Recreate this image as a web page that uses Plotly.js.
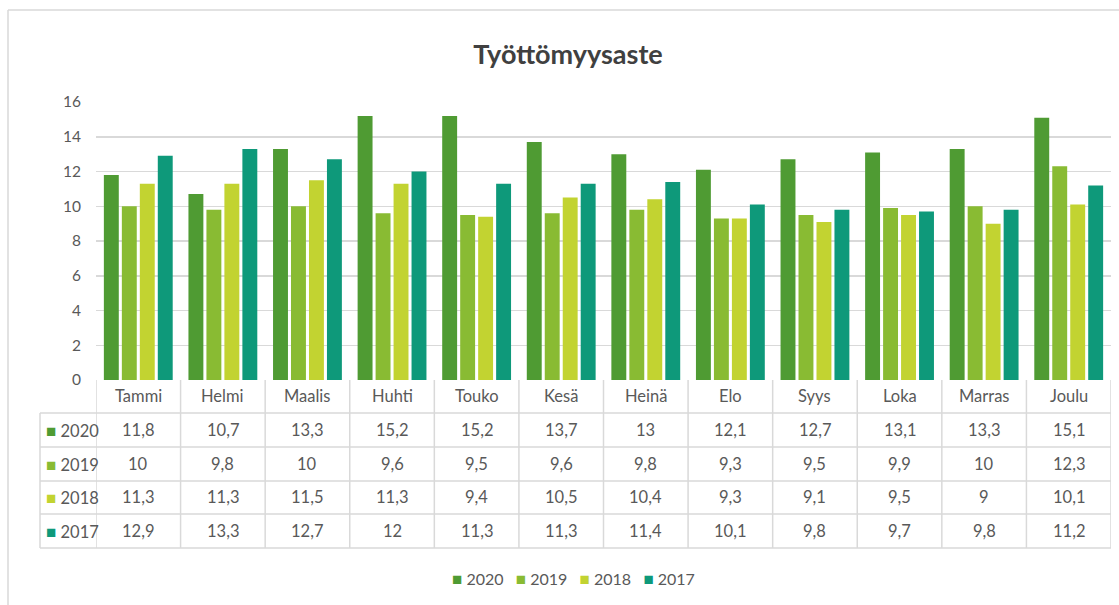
<!DOCTYPE html>
<html>
<head>
<meta charset="utf-8">
<script src="https://cdn.plot.ly/plotly-3.0.1.min.js"></script>
<style>html,body{margin:0;padding:0;background:#fff;}#chart{width:1119px;height:605px;}</style>
</head>
<body>
<div id="chart"></div>
<script>
const months = ["Tammi","Helmi","Maalis","Huhti","Touko","Kesä","Heinä","Elo","Syys","Loka","Marras","Joulu"];
const seriesNames = ["2020","2019","2018","2017"];
const y2020 = [11.8,10.7,13.3,15.2,15.2,13.7,13,12.1,12.7,13.1,13.3,15.1];
const y2019 = [10,9.8,10,9.6,9.5,9.6,9.8,9.3,9.5,9.9,10,12.3];
const y2018 = [11.3,11.3,11.5,11.3,9.4,10.5,10.4,9.3,9.1,9.5,9,10.1];
const y2017 = [12.9,13.3,12.7,12,11.3,11.3,11.4,10.1,9.8,9.7,9.8,11.2];
const yTicks = [0,2,4,6,8,10,12,14,16];

const seriesValues = [y2020,y2019,y2018,y2017];
const colors = ["#4f9b33","#89bb33","#c2d331","#0e997a"];
const FONT = "Lato, 'Open Sans', sans-serif";
const TXT = "#595959";
const LINE = "#d9d9d9";

const W = 1119, H = 605, ML = 96, MR = 8, MT = 102, MB = 225;
const plotH = H - MT - MB, plotW = W - ML - MR;
const py = Y => (H - MB - Y) / plotH;   // pixel row -> paper y
const px = X => (X - ML) / plotW;       // pixel col -> paper x

const traces = seriesNames.map((n,i) => ({
  type: "bar", name: n, x: months, y: seriesValues[i],
  marker: {color: colors[i]}, hoverinfo: "x+y+name"
}));

const rowLines = [413,447,481,514,548];
const rowCenters = [430,464,497,531];
const shapes = [];
const annotations = [];

rowLines.forEach(Y => shapes.push({type:"line", xref:"paper", yref:"paper",
  x0: px(40), x1: 1, y0: py(Y), y1: py(Y), line:{color:LINE, width:1.5}}));
shapes.push({type:"line", xref:"paper", yref:"paper", x0:px(40), x1:px(40),
  y0: py(413), y1: py(548), line:{color:LINE, width:1.5}});
for (let i = 0; i <= months.length; i++) {
  shapes.push({type:"line", xref:"x", yref:"paper", x0: i-0.5, x1: i-0.5,
    y0: 0, y1: py(548), line:{color:LINE, width:1.5}});
}
shapes.push({type:"line", xref:"paper", yref:"paper", x0:px(8), x1:px(1130),
  y0: py(10), y1: py(10), line:{color:LINE, width:1.5}});
shapes.push({type:"line", xref:"paper", yref:"paper", x0:px(8), x1:px(8),
  y0: py(10), y1: py(620), line:{color:LINE, width:1.5}});

const tf = {family:FONT, size:16.5, color:TXT};
const lf = {family:FONT, size:16, color:TXT};
months.forEach(m => annotations.push({xref:"x", yref:"paper", x:m, y:py(396),
  yanchor:"middle", xanchor:"center", text:m, showarrow:false, font:tf}));
seriesNames.forEach((n,i) => {
  annotations.push({xref:"paper", yref:"paper", x:px(44), xanchor:"left",
    y:py(rowCenters[i]), yanchor:"middle",
    text:'<span style="color:'+colors[i]+';font-size:17px">■</span> '+n, showarrow:false, font:tf});
  seriesValues[i].forEach((v,j) => annotations.push({xref:"x", yref:"paper", x:months[j],
    y:py(rowCenters[i]), yanchor:"middle", xanchor:"center",
    text:String(v).replace(".", ","), showarrow:false, font:tf}));
});
// legend
annotations.push({xref:"paper", yref:"paper", x:px(573), xanchor:"center", y:py(578), yanchor:"middle",
  showarrow:false, font:lf,
  text: seriesNames.map((n,i) => '<span style="color:'+colors[i]+';font-size:17px">■</span> '+n).join("   ")});

const layout = {
  width: W, height: H,
  margin: {l:ML, r:MR, t:MT, b:MB, pad:0},
  paper_bgcolor: "#fff", plot_bgcolor: "#fff",
  title: {text:"Työttömyysaste", x: px(568), xanchor:"center", xref:"paper",
    y: 1 - 55/H, yanchor:"middle",
    font:{family:FONT, size:27, color:"#404040", weight:"bold"}},
  barmode: "group", bargap: 0.15, bargroupgap: 0.17,
  xaxis: {type:"category", showticklabels:false, ticks:"", showgrid:false,
    zeroline:false, showline:false, range:[-0.5, months.length-0.5]},
  yaxis: {range:[0,16], tickvals:yTicks, ticktext:yTicks.map(String),
    showgrid:true, gridcolor:LINE, gridwidth:1.5, zeroline:false, showline:false,
    ticks:"", ticklabelstandoff:14, tickfont:{family:FONT, size:15.5, color:TXT}},
  showlegend: false,
  shapes: shapes, annotations: annotations
};

Plotly.newPlot("chart", traces, layout, {displayModeBar:false, staticPlot:true});
</script>
</body>
</html>
